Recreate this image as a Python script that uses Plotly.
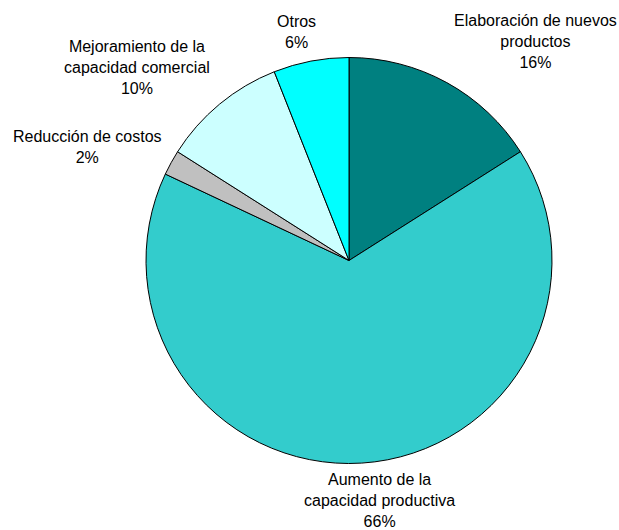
import plotly.graph_objects as go

labels = ["Elaboración de nuevos productos", "Aumento de la capacidad productiva",
          "Reducción de costos", "Mejoramiento de la capacidad comercial", "Otros"]
label_text = ["Elaboración de nuevos<br>productos", "Aumento de la<br>capacidad productiva",
              "Reducción de costos", "Mejoramiento de la<br>capacidad comercial", "Otros"]
values = [16, 66, 2, 10, 6]
colors = ["#008080", "#33CCCC", "#C0C0C0", "#CCFFFF", "#00FFFF"]

W, H = 619, 530
fig = go.Figure(go.Pie(
    labels=labels, values=values, sort=False, direction="clockwise", rotation=0,
    marker=dict(colors=colors, line=dict(color="black", width=1)),
    textinfo="none", showlegend=False, hoverinfo="label+percent",
    domain=dict(x=[146 / W, 552 / W], y=[1 - 464 / H, 1 - 57 / H]),
))

# label block centre positions in pixels (x, y)
label_pos = [(535, 42), (380, 500), (87, 147), (137, 68), (296, 32)]
total = sum(values)
for txt, v, (px, py) in zip(label_text, values, label_pos):
    fig.add_annotation(
        x=px / W, y=1 - py / H, xref="paper", yref="paper",
        text=f"{txt}<br>{round(100 * v / total)}%", showarrow=False,
        xanchor="center", yanchor="middle", align="center",
        font=dict(family="Liberation Sans, Arial", size=16, color="black"),
    )

fig.update_layout(width=W, height=H, margin=dict(l=0, r=0, t=0, b=0),
                  paper_bgcolor="white", plot_bgcolor="white")
fig.write_html("out.html", config={"displayModeBar": False},
               post_script="document.body.style.margin='0px';")
